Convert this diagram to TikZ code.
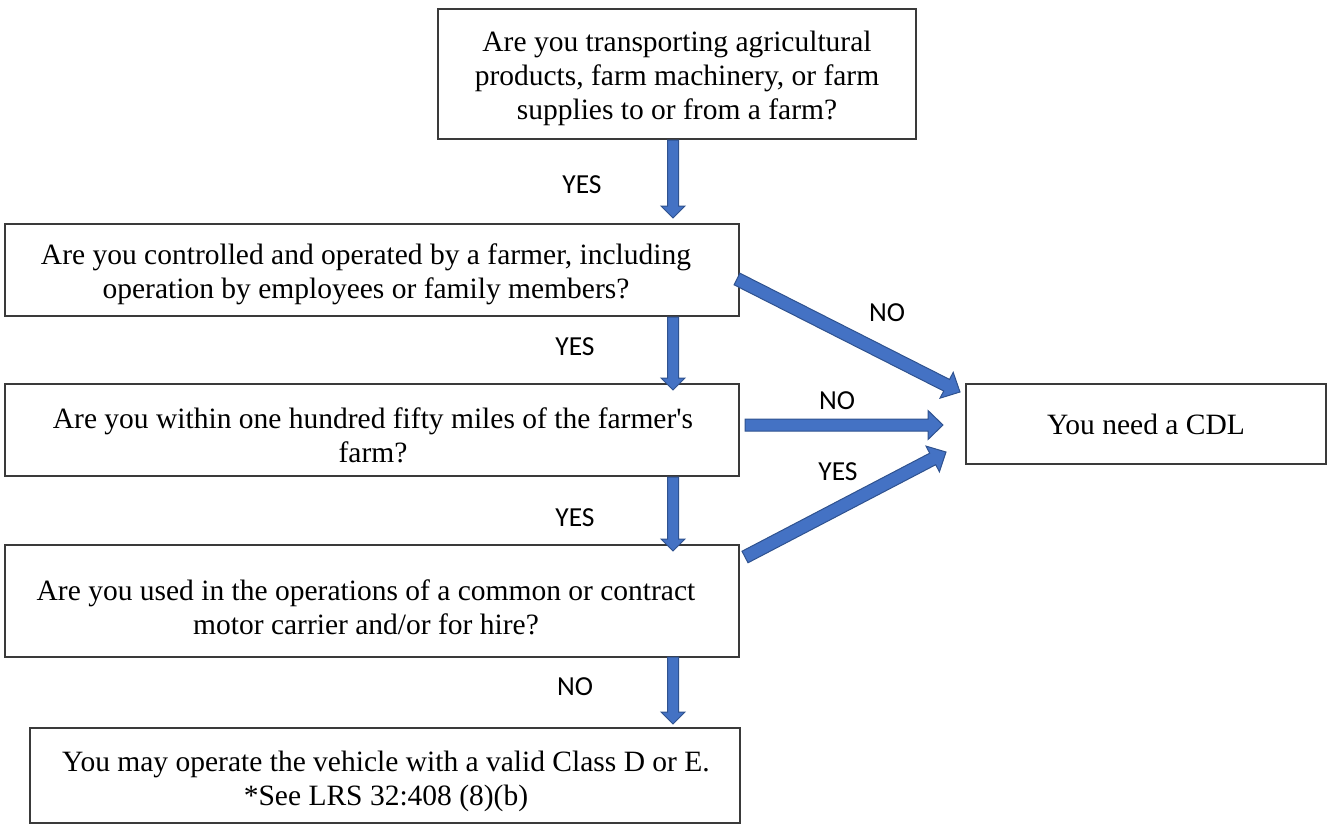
\documentclass[tikz,border=0pt]{standalone}
\usepackage{fontspec}
\setmainfont{Liberation Serif}
\newfontfamily\lblfont{Carlito}
\usetikzlibrary{calc}
\definecolor{arrfill}{HTML}{4472C4}
\definecolor{arredge}{HTML}{2F528F}
\definecolor{boxedge}{HTML}{3A3A3A}
\tikzset{
 box/.style={draw=boxedge, line width=1.3pt, inner sep=0pt},
 txt/.style={align=center, font=\fontsize{29.5}{34}\selectfont, inner sep=0pt},
 lbl/.style={font=\lblfont\fontsize{27.5}{30}\selectfont, inner sep=0pt},
 blockarrow/.style={fill=arrfill, draw=arredge, line width=1pt, line join=miter},
}
% #1 from, #2 to, #3 half shaft, #4 half head, #5 head length
\newcommand\blockarrow[5]{%
  \coordinate (ba-c) at ($(#2)!#5!(#1)$);
  \draw[blockarrow] ($(#1)!#3!90:(#2)$) -- ($(ba-c)!#3!90:(#2)$) -- ($(ba-c)!#4!90:(#2)$) -- (#2)
    -- ($(ba-c)!#4!-90:(#2)$) -- ($(ba-c)!#3!-90:(#2)$) -- ($(#1)!#3!-90:(#2)$) -- cycle;
}
\begin{document}
\begin{tikzpicture}[x=1pt,y=-1pt]
\useasboundingbox (0,0) rectangle (1331,825);
% boxes
\node[box, minimum width=478pt, minimum height=130pt] (q1) at (677,74) {};
\node[txt] (q1t) at (677,78)
  {Are you transporting agricultural\\products, farm machinery, or farm\\supplies to or from a farm?};
\node[box, minimum width=734pt, minimum height=92pt] (q2) at (372,270) {};
\node[txt] (q2t) at (366,274)
  {Are you controlled and operated by a farmer, including\\operation by employees or family members?};
\node[box, minimum width=734pt, minimum height=92pt] (q3) at (372,430) {};
\node[txt] (q3t) at (373,435)
  {Are you within one hundred fifty miles of the farmer\textquotesingle s\\farm?};
\node[box, minimum width=734pt, minimum height=112pt] (q4) at (372,601) {};
\node[txt] (q4t) at (366,607)
  {Are you used in the operations of a common or contract\\motor carrier and/or for hire?};
\node[box, minimum width=710pt, minimum height=95pt] (res) at (385,775.5) {};
\node[txt] (rest) at (386,781)
  {You may operate the vehicle with a valid Class D or E.\\*See LRS 32:408 (8)(b)};
\node[box, minimum width=360pt, minimum height=80pt] (cdl) at (1146,424) {};
\node[txt] (cdlt) at (1146,424) {You need a CDL};
% arrow end points
\coordinate (a1s) at (673,140); \coordinate (a1e) at (673,218);
\coordinate (a2s) at (673,317); \coordinate (a2e) at (673,390);
\coordinate (a3s) at (673,477); \coordinate (a3e) at (673,551);
\coordinate (a4s) at (673,657); \coordinate (a4e) at (673,724);
\coordinate (a5s) at (737,279); \coordinate (a5e) at (960,392);
\coordinate (a6s) at (745,425); \coordinate (a6e) at (943,425);
\coordinate (a7s) at (745,557); \coordinate (a7e) at (946,452);
\blockarrow{a1s}{a1e}{5.5pt}{12pt}{12pt}
\blockarrow{a2s}{a2e}{5.5pt}{12pt}{12pt}
\blockarrow{a3s}{a3e}{5.5pt}{12pt}{12pt}
\blockarrow{a4s}{a4e}{5.5pt}{12pt}{12pt}
\blockarrow{a5s}{a5e}{6.5pt}{14.5pt}{15pt}
\blockarrow{a6s}{a6e}{6pt}{14.5pt}{15pt}
\blockarrow{a7s}{a7e}{6.5pt}{14.5pt}{15pt}
% labels
\node[lbl] (l1) at (582,185) {YES};
\node[lbl] (l2) at (575,347) {YES};
\node[lbl] (l3) at (887,313) {NO};
\node[lbl] (l4) at (837,401) {NO};
\node[lbl] (l5) at (838,472) {YES};
\node[lbl] (l6) at (575,518) {YES};
\node[lbl] (l7) at (575,687) {NO};
\end{tikzpicture}
\end{document}
